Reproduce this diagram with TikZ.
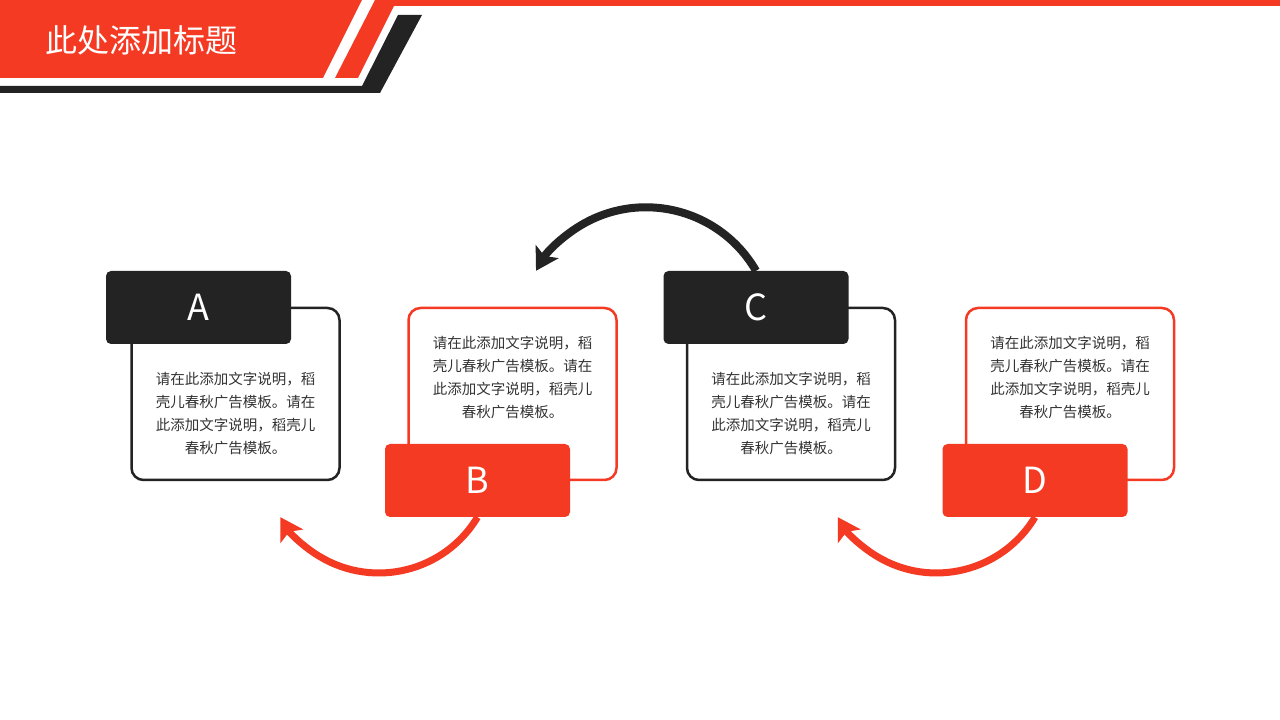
\documentclass[tikz,border=0pt]{standalone}
\usepackage{fontspec}
\newfontfamily\cjk{Noto Sans CJK SC}
\usetikzlibrary{arrows.meta}
\usetikzlibrary{backgrounds}
\definecolor{mainred}{RGB}{245,58,36}
\definecolor{darkbox}{RGB}{35,35,35}
\definecolor{desccolor}{RGB}{51,51,51}
\newcommand{\blurb}{请在此添加文字说明，稻\\壳儿春秋广告模板。请在\\此添加文字说明，稻壳儿\\春秋广告模板。}
\tikzstyle{labelbox} = [rounded corners=5pt, minimum width=185pt, minimum height=73pt, inner sep=0pt, text=white, font=\cjk\fontsize{36}{40}\selectfont]
\tikzstyle{textbox} = [draw, line width=2.5pt, rounded corners=12pt, fill=white, minimum width=208pt, minimum height=172pt]
\tikzstyle{desc} = [align=center, text=desccolor, inner sep=0pt, font=\cjk\fontsize{14.5}{23}\selectfont]
\tikzstyle{arrow} = [line width=8pt, -{Stealth[length=22pt,width=26pt,inset=5pt]}]

\begin{document}
\begin{tikzpicture}[x=1pt,y=1pt]
			\useasboundingbox (0,0) rectangle (1280,720);
			\begin{scope}[on background layer]
				\fill[white] (0,0) rectangle (1280,720);
			\end{scope}
			
			% header
			\fill[mainred] (0,720) -- (362,720) -- (323,642) -- (0,642) -- cycle;
			\fill[mainred] (375,720) -- (1280,720) -- (1280,714) -- (394,714) -- (358,642) -- (335,642) -- cycle;
			\fill[darkbox] (0,634) -- (362,634) -- (398,705) -- (422,705) -- (380,627) -- (0,627) -- cycle;
			\node[anchor=west, inner sep=0pt, text=white, font=\cjk\fontsize{32}{36}\selectfont](title) at (45, 680){此处添加标题};
			
			\node[textbox, draw=darkbox](Abox) at (235.5, 326){};
			\node[desc](Atext) at ([yshift=-20pt]Abox.center){\blurb};
			\node[labelbox, fill=darkbox](Alab) at (198.5, 412.5){A};
			
			\node[textbox, draw=mainred](Bbox) at (512.5, 326){};
			\node[desc](Btext) at ([yshift=16.5pt]Bbox.center){\blurb};
			\node[labelbox, fill=mainred](Blab) at (477.5, 239.5){B};
			
			\node[textbox, draw=darkbox](Cbox) at (791, 326){};
			\node[desc](Ctext) at ([yshift=-20pt]Cbox.center){\blurb};
			\node[labelbox, fill=darkbox](Clab) at (756, 412.5){C};
			
			\node[textbox, draw=mainred](Dbox) at (1070, 326){};
			\node[desc](Dtext) at ([yshift=16.5pt]Dbox.center){\blurb};
			\node[labelbox, fill=mainred](Dlab) at (1035, 239.5){D};
			
			\begin{scope}[on background layer]
				\draw[arrow, darkbox](Clab.north) arc[start angle=30, end angle=150, radius=127];
				\draw[arrow, mainred, line width=7pt](Blab.south) arc[start angle=-31, end angle=-149, radius=115];
				\draw[arrow, mainred, line width=7pt](Dlab.south) arc[start angle=-31, end angle=-149, radius=115];
			\end{scope}
		\end{tikzpicture}
\end{document}
